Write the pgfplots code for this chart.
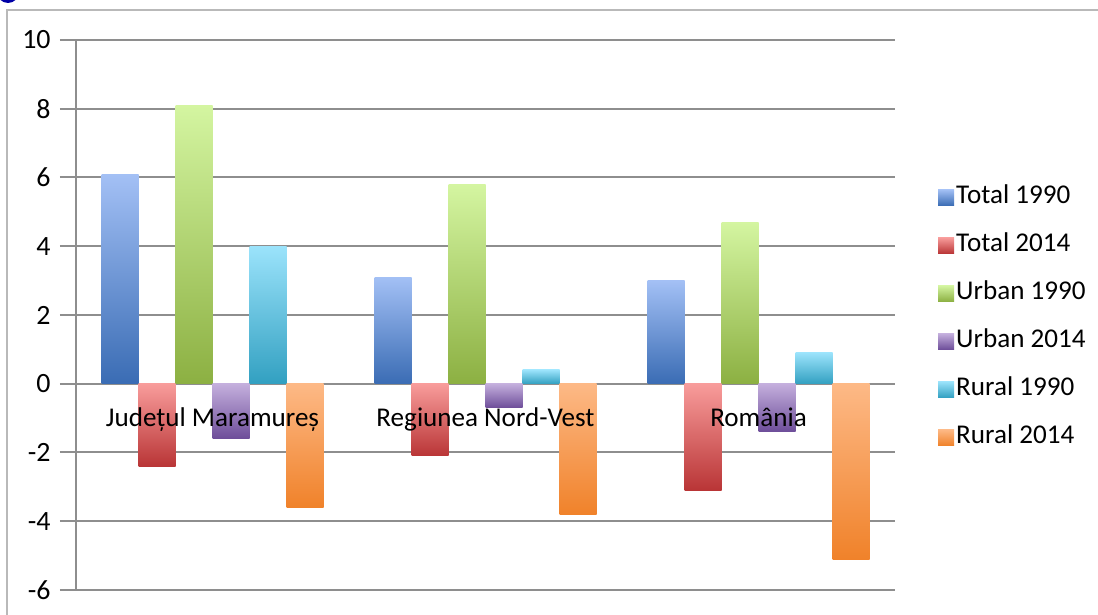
\documentclass[border=0pt]{standalone}
\usepackage{fontspec}
\setmainfont{Carlito}
\usepackage{pgfplots}
\pgfplotsset{compat=1.18}

\definecolor{gridgray}{HTML}{8E8E8E}
\definecolor{t90top}{HTML}{A3C0F5}
\definecolor{t90bot}{HTML}{3A6CB4}
\definecolor{t14top}{HTML}{F89C9B}
\definecolor{t14bot}{HTML}{B93536}
\definecolor{u90top}{HTML}{D4F5A1}
\definecolor{u90bot}{HTML}{8CB042}
\definecolor{u14top}{HTML}{C4AFDD}
\definecolor{u14bot}{HTML}{6D4D99}
\definecolor{r90top}{HTML}{9BE3FB}
\definecolor{r90bot}{HTML}{32A0C1}
\definecolor{r14top}{HTML}{FDB986}
\definecolor{r14bot}{HTML}{F0822A}

% one bar per \addplot, so each bar gets its own shading
\pgfplotsset{
  mybar/.style n args={3}{draw=none, top color=#1, bottom color=#2, bar shift=#3},
  tot90/.style={mybar={t90top}{t90bot}{-46.25bp}},
  tot14/.style={mybar={t14top}{t14bot}{-27.75bp}},
  urb90/.style={mybar={u90top}{u90bot}{-9.25bp}},
  urb14/.style={mybar={u14top}{u14bot}{9.25bp}},
  rur90/.style={mybar={r90top}{r90bot}{27.75bp}},
  rur14/.style={mybar={r14top}{r14bot}{46.25bp}},
}
\newcommand\lbl{\fontsize{13.6}{16}\selectfont}

\begin{document}
\lbl
\begin{tikzpicture}
\useasboundingbox (0,0) rectangle (549bp,307.5bp);
\draw[gray!55, line width=1bp] (3.5bp,-2bp) -- (3.5bp,302.5bp) -- (552bp,302.5bp);
\fill[blue!65!black] (4bp,311.5bp) circle (5.5bp);
\begin{axis}[
  at={(38bp,12.5bp)}, anchor=south west,
  scale only axis, width=409.5bp, height=275bp,
  xmin=0.5, xmax=3.5, ymin=-6, ymax=10,
  axis y line*=left, axis x line*=middle,
  axis line style={gridgray, line width=1bp},
  ytick={-6,-4,...,10},
  ymajorgrids, grid style={gridgray, line width=1bp},
  tick align=outside, major tick length=8bp, minor tick length=4bp,
  ytick style={gridgray, line width=1bp},
  yticklabel style={font=\fontsize{14}{16}\selectfont},
  xtick=\empty,
  minor xtick={1.5,2.5,3.5},
  minor x tick style={gridgray, line width=1bp},
  /pgf/number format/assume math mode=true,
  ybar=0pt, bar width=18.5bp,
  every axis plot post/.append style={
    legend image code/.code={\path[##1, draw=none] (0bp,-4bp) rectangle (8bp,4bp);}},
  legend style={at={(1.045,0.747)}, anchor=north west, draw=none, fill=none,
    font=\lbl, row sep=10bp,
    nodes={inner sep=1bp, text height=9bp, text depth=3bp}},
  legend cell align=left,
]
% Județul Maramureș
\addplot[tot90] coordinates {(1,6.1)};
\addplot[tot14] coordinates {(1,-2.4)};
\addplot[urb90] coordinates {(1,8.1)};
\addplot[urb14] coordinates {(1,-1.6)};
\addplot[rur90] coordinates {(1,4.0)};
\addplot[rur14] coordinates {(1,-3.6)};
\legend{Total 1990, Total 2014, Urban 1990, Urban 2014, Rural 1990, Rural 2014}
% Regiunea Nord-Vest
\addplot[tot90, forget plot] coordinates {(2,3.1)};
\addplot[tot14, forget plot] coordinates {(2,-2.1)};
\addplot[urb90, forget plot] coordinates {(2,5.8)};
\addplot[urb14, forget plot] coordinates {(2,-0.7)};
\addplot[rur90, forget plot] coordinates {(2,0.4)};
\addplot[rur14, forget plot] coordinates {(2,-3.8)};
% România
\addplot[tot90, forget plot] coordinates {(3,3.0)};
\addplot[tot14, forget plot] coordinates {(3,-3.1)};
\addplot[urb90, forget plot] coordinates {(3,4.7)};
\addplot[urb14, forget plot] coordinates {(3,-1.4)};
\addplot[rur90, forget plot] coordinates {(3,0.9)};
\addplot[rur14, forget plot] coordinates {(3,-5.1)};
% category names sit on top of the bars
\node[anchor=base, yshift=-21.5bp] at (axis cs:1,0) {Județul Maramureș};
\node[anchor=base, yshift=-21.5bp] at (axis cs:2,0) {Regiunea Nord-Vest};
\node[anchor=base, yshift=-21.5bp] at (axis cs:3,0) {România};
\end{axis}
\end{tikzpicture}
\end{document}
